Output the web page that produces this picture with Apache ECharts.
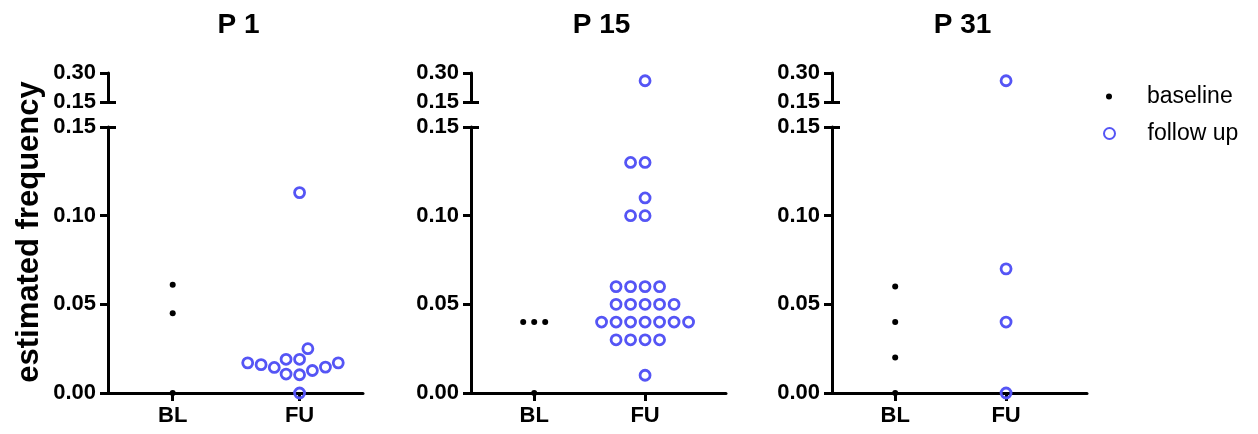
<!DOCTYPE html>
<html>
<head>
<meta charset="utf-8">
<script src="https://cdn.jsdelivr.net/npm/echarts@6/dist/echarts.min.js"></script>
<style>
  html, body { margin: 0; padding: 0; background: #fff; }
  .main { width: 1258px; height: 434px; }
</style>
</head>
<body>
<div class="main"></div>
<script>
// data
const categories = ['BL', 'FU'];
const panelTitles = ['P 1', 'P 15', 'P 31'];

const baselineP1 = [0.061, 0.045, 0];
const followUpP1 = [0.113, 0.025, 0.019, 0.019, 0.017, 0.017, 0.016, 0.0146, 0.0144, 0.0127, 0.0107, 0.0103, 0];
const baselineP15 = [0.04, 0.04, 0.04, 0];
const followUpP15 = [0.26, 0.13, 0.13, 0.11, 0.10, 0.10,
  0.06, 0.06, 0.06, 0.06,
  0.05, 0.05, 0.05, 0.05, 0.05,
  0.04, 0.04, 0.04, 0.04, 0.04, 0.04, 0.04,
  0.03, 0.03, 0.03, 0.03, 0.01];
const baselineP31 = [0.06, 0.04, 0.02, 0];
const followUpP31 = [0.26, 0.07, 0.04, 0];

const baseline = [baselineP1, baselineP15, baselineP31];
const followUp = [followUpP1, followUpP15, followUpP31];

// layout
const FONT = "'Liberation Sans', Arial, sans-serif";
const BLUE = '#5555f5';
const lefts = [108, 471, 832];
const W = 255;
const xRange = [[-0.51, 1.5], [-0.57, 1.73], [-0.57, 1.73]];
const circleGap = [13.5, 14.5, 14.5];
const lowTop = 127, lowH = 266;
const upTop = 73, upH = 29;
const BREAK = 0.15;

function yPx(v) {
  if (v <= BREAK) return v / BREAK * lowH;
  return lowH + 25 + (v - BREAK) / BREAK * upH;
}

// simple beeswarm: offsets in px, computed from the values
function swarm(values, diam) {
  const order = values.map((v, i) => i).sort((a, b) => values[a] - values[b]);
  const placed = [];
  const off = new Array(values.length);
  order.forEach(i => {
    const y = yPx(values[i]);
    const blocks = [];
    placed.forEach(p => {
      const dy = Math.abs(p.y - y);
      if (dy < diam) {
        const h = Math.sqrt(diam * diam - dy * dy);
        blocks.push([p.x - h, p.x + h]);
      }
    });
    const cands = [0];
    blocks.forEach(b => cands.push(b[0], b[1]));
    cands.sort((a, b) => (Math.round(Math.abs(a) * 100) - Math.round(Math.abs(b) * 100)) || a - b);
    const x = cands.find(c => blocks.every(b => c <= b[0] + 1e-6 || c >= b[1] - 1e-6));
    off[i] = x;
    placed.push({ x: x, y: y });
  });
  return off;
}

let chartDom = document.querySelector('.main');
let myChart = echarts.init(chartDom);

let grids = [], xAxes = [], yAxes = [], series = [], titles = [];

const labelStyle = { color: '#000', fontSize: 22, fontWeight: 'bold', fontFamily: FONT };
const lineStyle = { color: '#000', width: 3 };

for (let p = 0; p < 3; p++) {
  const lo = 2 * p, up = 2 * p + 1;
  grids.push({ left: lefts[p], top: lowTop, width: W, height: lowH });
  grids.push({ left: lefts[p], top: upTop, width: W, height: upH });

  xAxes.push({
    type: 'value', gridIndex: lo, min: xRange[p][0], max: xRange[p][1],
    splitLine: { show: false },
    axisLine: { show: true, onZero: false, lineStyle: lineStyle },
    axisTick: { show: true, length: 8, lineStyle: lineStyle, customValues: [0, 1] },
    axisLabel: { ...labelStyle, margin: 12, customValues: [0, 1], formatter: v => categories[Math.round(v)] }
  });
  xAxes.push({ type: 'value', gridIndex: up, min: xRange[p][0], max: xRange[p][1], show: false });

  // per panel: [lower, upper, lower break mark, upper break mark]
  yAxes.push({
    type: 'value', gridIndex: lo, min: 0, max: 0.15, interval: 0.05,
    splitLine: { show: false },
    axisLine: { show: true, onZero: false, lineStyle: lineStyle },
    axisTick: { show: true, length: 8, lineStyle: lineStyle },
    axisLabel: { ...labelStyle, margin: 12, formatter: v => v.toFixed(2) }
  });
  yAxes.push({
    type: 'value', gridIndex: up, min: 0.15, max: 0.30, interval: 0.15,
    splitLine: { show: false },
    axisLine: { show: true, onZero: false, lineStyle: lineStyle },
    axisTick: { show: true, length: 8, lineStyle: lineStyle },
    axisLabel: { ...labelStyle, margin: 12, formatter: v => v.toFixed(2) }
  });
  yAxes.push({
    type: 'value', gridIndex: lo, min: 0, max: 0.15, position: 'left',
    splitLine: { show: false }, axisLine: { show: false, onZero: false }, axisLabel: { show: false },
    axisTick: { show: true, inside: true, length: 8, lineStyle: lineStyle, customValues: [0.15] }
  });
  yAxes.push({
    type: 'value', gridIndex: up, min: 0.15, max: 0.30, position: 'left',
    splitLine: { show: false }, axisLine: { show: false, onZero: false }, axisLabel: { show: false },
    axisTick: { show: true, inside: true, length: 8, lineStyle: lineStyle, customValues: [0.15] }
  });

  const pxPerUnit = W / (xRange[p][1] - xRange[p][0]);
  const groups = [
    { name: 'baseline', vals: baseline[p], cat: 0, diam: 11 },
    { name: 'follow up', vals: followUp[p], cat: 1, diam: circleGap[p] }
  ];
  groups.forEach(g => {
    const off = swarm(g.vals, g.diam);
    const pts = g.vals.map((v, i) => [g.cat + off[i] / pxPerUnit, v]);
    const lowPts = pts.filter(d => d[1] <= BREAK);
    const upPts = pts.filter(d => d[1] > BREAK);
    const style = g.name === 'baseline'
      ? { symbolSize: 6, itemStyle: { color: '#000', opacity: 1 } }
      : { symbolSize: 10, itemStyle: { color: 'rgba(255,255,255,0)', borderColor: BLUE, borderWidth: 2.8, opacity: 1 } };
    series.push({ name: g.name, type: 'scatter', xAxisIndex: lo, yAxisIndex: 4 * p, data: lowPts, symbol: 'circle', clip: false, ...style });
    series.push({ name: g.name, type: 'scatter', xAxisIndex: up, yAxisIndex: 4 * p + 1, data: upPts, symbol: 'circle', clip: false, ...style });
  });

  titles.push({
    text: panelTitles[p], left: lefts[p] + W / 2 - 2, top: 6, textAlign: 'center',
    textStyle: { color: '#000', fontSize: 28, fontWeight: 'bold', fontFamily: FONT }
  });
}

option = {
  backgroundColor: '#fff',
  animation: false,
  title: titles,
  grid: grids,
  xAxis: xAxes,
  yAxis: yAxes,
  legend: [
    {
      data: ['baseline'], orient: 'vertical', left: 1101, top: 80,
      itemWidth: 66, itemHeight: 6, icon: 'circle',
      textStyle: { color: '#000', fontSize: 23, fontFamily: FONT }
    },
    {
      data: ['follow up'], orient: 'vertical', left: 1098, top: 117,
      itemWidth: 66, itemHeight: 11, icon: 'circle',
      textStyle: { color: '#000', fontSize: 23, fontFamily: FONT }
    }
  ],
  graphic: [{
    type: 'text', x: 29, y: 232, rotation: Math.PI / 2,
    style: {
      text: 'estimated frequency', fill: '#000', fontSize: 31, fontWeight: 'bold',
      fontFamily: FONT, textAlign: 'center', textVerticalAlign: 'middle'
    }
  }],
  series: series
};

option && myChart.setOption(option);
</script>
</body>
</html>
